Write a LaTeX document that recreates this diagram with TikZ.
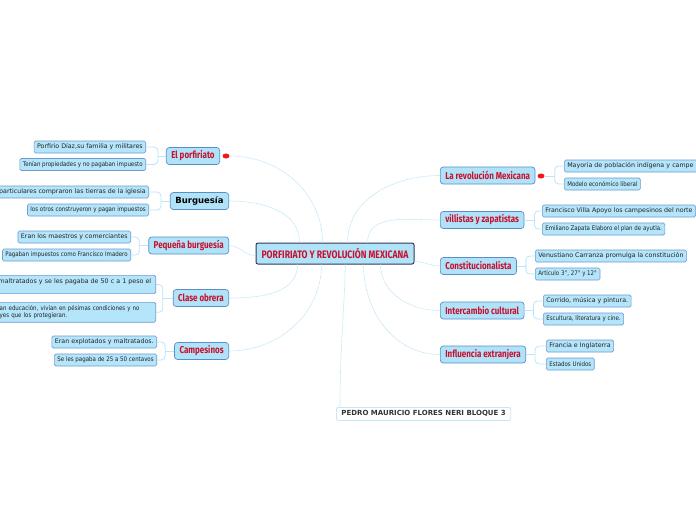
\documentclass[tikz,border=0pt]{standalone}
\usepackage{fontspec}
\setmainfont{DejaVu Sans}
\newfontfamily\topicfont[FakeStretch=0.8]{Fira Sans}
\newfontfamily\narrowfont[FakeStretch=0.87]{DejaVu Sans}
\usetikzlibrary{positioning,shapes.geometric}
\definecolor{topicfill}{HTML}{B0E2F8}
\definecolor{leaffill}{HTML}{B5E5FB}
\definecolor{topicline}{HTML}{5B8DC9}
\definecolor{leafline}{HTML}{6F9BCB}
\definecolor{titleline}{HTML}{2E3B55}
\definecolor{topicred}{HTML}{C8102E}
\definecolor{leaftext}{HTML}{222222}
\definecolor{linkblue}{HTML}{BDE5F7}
\definecolor{dotred}{HTML}{F01818}
\definecolor{footline}{HTML}{C5E8F8}
\definecolor{foottext}{HTML}{333333}

\begin{document}
\begin{tikzpicture}[
  x=1pt,y=1pt,
  topic/.style={draw=topicline,fill=topicfill,rounded corners=3pt,line width=0.7pt,
    minimum height=17pt,inner xsep=5pt,inner ysep=0pt,text=topicred,
    font=\topicfont\bfseries\fontsize{10}{11}\selectfont},
  leaf/.style={draw=leafline,fill=leaffill,rounded corners=1.5pt,line width=0.6pt,
    minimum height=12pt,inner xsep=3pt,inner ysep=0pt,text=leaftext,
    font=\fontsize{6.3}{7.6}\selectfont},
  narrow/.style={font=\narrowfont\fontsize{6.3}{7.6}\selectfont},
  link/.style={draw=linkblue,line width=0.6pt,dash pattern=on 0.8pt off 0.5pt},
  branch/.style={draw=linkblue,line width=0.8pt,rounded corners=4pt},
  rdot/.style={ellipse,fill=dotred,minimum width=7pt,minimum height=5pt,inner sep=0pt}
]
\useasboundingbox[fill=white] (0,0) rectangle (696,-520);

% centre
\node[draw=titleline,fill=topicfill,rounded corners=2pt,line width=1pt,
  minimum width=158pt,minimum height=21pt,text=topicred,
  font=\topicfont\bfseries\fontsize{10.8}{12}\selectfont] (title) at (335,-253.5)
  {PORFIRIATO Y REVOLUCIÓN MEXICANA};

% left topics
\node[topic,anchor=east] (porf) at (220,-156) {El porfiriato};
\node[rdot] (porfdot) at (226,-156) {};
\node[topic,anchor=east,text=black,font=\bfseries\fontsize{8.5}{10}\selectfont] (burg) at (229,-201) {Burguesía};
\node[topic,anchor=east] (peq) at (229,-245.5) {Pequeña burguesía};
\node[topic,anchor=east] (obrera) at (229,-298) {Clase obrera};
\node[topic,anchor=east] (camp) at (229,-351) {Campesinos};

% right topics
\node[topic,anchor=west] (rev) at (440,-175.5) {La revolución Mexicana};
\node[rdot] (revdot) at (541,-176) {};
\node[topic,anchor=west] (villa) at (440,-220) {villistas y zapatistas};
\node[topic,anchor=west] (const) at (440,-266) {Constitucionalista};
\node[topic,anchor=west] (inter) at (440,-310.5) {Intercambio cultural};
\node[topic,anchor=west] (infl) at (440,-354.5) {Influencia extranjera};

% left leaves
\node[leaf,anchor=east] (porfA) at (146,-147) {Porfirio Díaz,su familia y militares};
\node[leaf,narrow,anchor=east] (porfB) at (146,-164.5) {Tenían propiedades y no pagaban impuesto};
\node[leaf,anchor=east] (burgA) at (149,-192) {particulares compraron las tierras de la iglesia};
\node[leaf,narrow,anchor=east] (burgB) at (149,-210) {los otros construyeron y pagan impuestos};
\node[leaf,anchor=east] (peqA) at (131,-237) {Eran los maestros y comerciantes};
\node[leaf,narrow,anchor=east] (peqB) at (131,-255) {Pagaban impuestos como Francisco Imadero};
\node[leaf,anchor=north east,text width=154pt,align=left,inner ysep=3pt] (obrA) at (156,-275)
  {maltratados y se les pagaba de 50 c a 1 peso el\\\mbox{}};
\node[leaf,narrow,anchor=north east,text width=153pt,align=left,inner ysep=3pt] (obrB) at (156,-302)
  {an educación, vivían en pésimas condiciones y no\\yes que los protegieran.};
\node[leaf,anchor=east] (campA) at (157,-342) {Eran explotados y maltratados.};
\node[leaf,narrow,anchor=east] (campB) at (157,-360) {Se les pagaba de 25 a 50 centavos};

% right leaves
\node[leaf,anchor=west,text width=150pt,align=left] (revA) at (564,-166) {Mayoria de población indígena y campe};
\node[leaf,narrow,anchor=west] (revB) at (564,-184) {Modelo económico liberal};
\node[leaf,anchor=west] (villaA) at (542,-211) {Francisco Villa Apoyo los campesinos del norte};
\node[leaf,narrow,anchor=west] (villaB) at (542,-229) {Emiliano Zapata Elaboro el plan de ayutla.};
\node[leaf,anchor=west] (constA) at (535,-256) {Venustiano Carranza promulga la constitución};
\node[leaf,narrow,anchor=west] (constB) at (535,-274) {Articulo 3°, 27° y 12°};
\node[leaf,anchor=west] (interA) at (543,-301) {Corrido, música y pintura.};
\node[leaf,narrow,anchor=west] (interB) at (543,-319) {Escultura, literatura y cine.};
\node[leaf,anchor=west] (inflA) at (546,-346) {Francia e Inglaterra};
\node[leaf,narrow,anchor=west] (inflB) at (546,-364) {Estados Unidos};

% footer
\node[draw=footline,fill=white,rounded corners=2pt,line width=0.8pt,minimum height=13pt,
  inner xsep=5pt,inner ysep=0pt,text=foottext,font=\bfseries\fontsize{7}{8}\selectfont,
  anchor=north west] (foot) at (336,-407) {PEDRO MAURICIO FLORES NERI BLOQUE 3};

% centre to topics
\draw[link] (porfdot.east) to[out=0,in=90] ([xshift=67pt]title.north west);
\draw[link] (burg.east) to[out=0,in=90] ([xshift=44pt]title.north west);
\draw[link] (peq.east) to[out=0,in=180] ([yshift=-2pt]title.west);
\draw[link] (obrera.east) to[out=0,in=-90] ([xshift=42pt]title.south west);
\draw[link] (camp.east) to[out=0,in=-90] ([xshift=66pt]title.south west);
\draw[link] ([xshift=92pt]title.north west) to[out=90,in=180] (rev.west);
\draw[link] ([xshift=112pt]title.north west) to[out=90,in=180] (villa.west);
\draw[link] ([yshift=-8pt]title.east) to[out=0,in=180] (const.west);
\draw[link] ([xshift=125pt]title.south west) to[out=-90,in=180] (inter.west);
\draw[link] ([xshift=108pt]title.south west) to[out=-90,in=180] (infl.west);
\draw[link] ([xshift=90pt]title.south west) to[out=-92,in=90] ([xshift=4pt]foot.north west);

% topics to leaves
\draw[branch] (porfA.east) -| ([xshift=-8pt]porf.west) |- (porfB.east);
\draw[branch] ([xshift=-8pt]porf.west) -- (porf.west);
\draw[branch] (burgA.east) -| ([xshift=-9pt]burg.west) |- (burgB.east);
\draw[branch] ([xshift=-9pt]burg.west) -- (burg.west);
\draw[branch] (peqA.east) -| ([xshift=-9pt]peq.west) |- (peqB.east);
\draw[branch] ([xshift=-9pt]peq.west) -- (peq.west);
\draw[branch] (obrA.east) -| ([xshift=-10pt]obrera.west) |- (obrB.east);
\draw[branch] ([xshift=-10pt]obrera.west) -- (obrera.west);
\draw[branch] (campA.east) -| ([xshift=-9pt]camp.west) |- (campB.east);
\draw[branch] ([xshift=-9pt]camp.west) -- (camp.west);

\draw[branch] (revA.west) -| ([xshift=10pt]revdot.east) |- (revB.west);
\draw[branch] (revdot.east) -- ++(10,0);
\draw[branch] (villaA.west) -| ([xshift=10pt]villa.east) |- (villaB.west);
\draw[branch] (villa.east) -- ++(10,0);
\draw[branch] (constA.west) -| ([xshift=9pt]const.east) |- (constB.west);
\draw[branch] (const.east) -- ++(9,0);
\draw[branch] (interA.west) -| ([xshift=9pt]inter.east) |- (interB.west);
\draw[branch] (inter.east) -- ++(9,0);
\draw[branch] (inflA.west) -| ([xshift=9pt]infl.east) |- (inflB.west);
\draw[branch] (infl.east) -- ++(9,0);
\end{tikzpicture}
\end{document}
